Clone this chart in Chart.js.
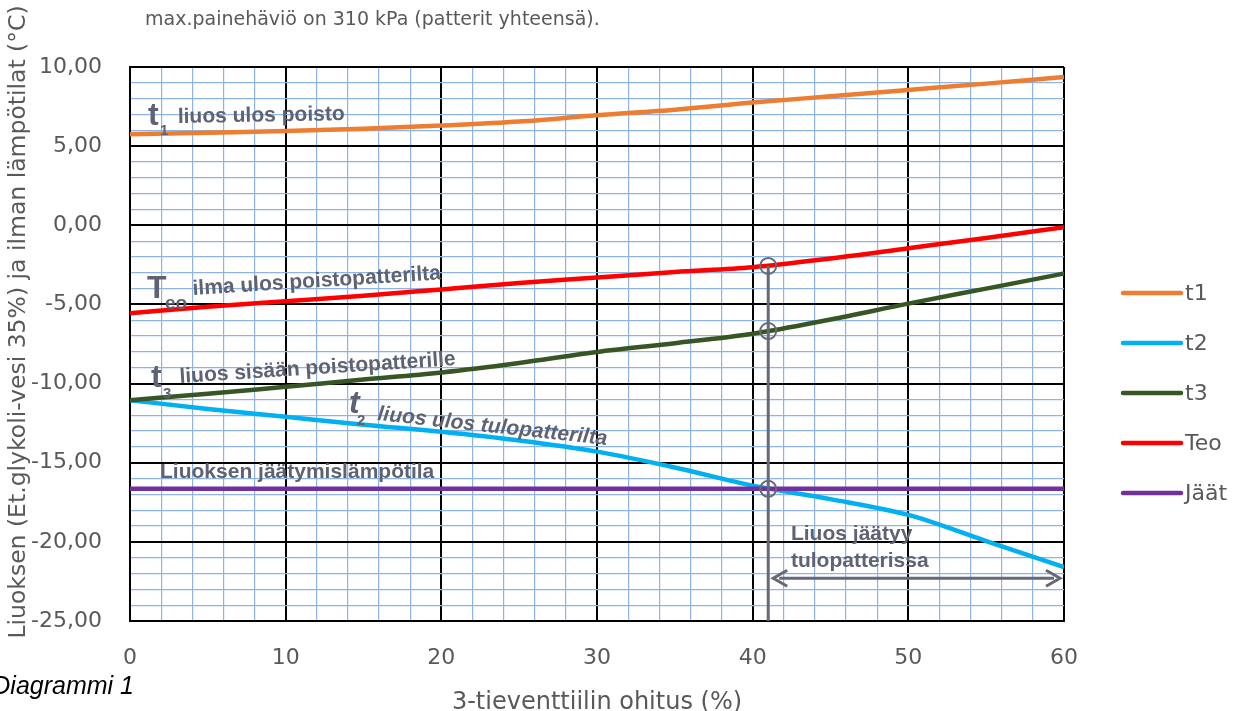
<!DOCTYPE html>
<html>
<head>
<meta charset="utf-8">
<script src="https://cdn.jsdelivr.net/npm/chart.js@4.4.1/dist/chart.umd.min.js"></script>
<style>
    html, body { margin: 0; background: #fff; }
    #wrap { width: 1238px; height: 711px; position: relative; }
</style>
</head>
<body>
<div id="wrap"><canvas id="chart"></canvas></div>
<script>
// values
const ohitus = [0, 5, 10, 15, 20, 25, 30, 35, 40, 45, 50, 55, 60];
const t1 = [5.75, 5.85, 5.95, 6.1, 6.3, 6.55, 6.95, 7.3, 7.75, 8.15, 8.55, 8.95, 9.37];
const t2 = [-11.05, -11.6, -12.1, -12.6, -13.05, -13.6, -14.3, -15.3, -16.45, -17.3, -18.3, -19.95, -21.6];
const t3 = [-11.05, -10.65, -10.2, -9.75, -9.3, -8.7, -8.0, -7.45, -6.85, -5.95, -4.95, -4.0, -3.05];
const teo = [-5.55, -5.15, -4.8, -4.45, -4.05, -3.65, -3.3, -2.95, -2.65, -2.1, -1.45, -0.8, -0.12];
const jaat = [-16.65, -16.65, -16.65, -16.65, -16.65, -16.65, -16.65, -16.65, -16.65, -16.65, -16.65, -16.65, -16.65];

const seriesNames = ["t1", "t2", "t3", "Teo", "Jäät"];
const seriesColors = ["#ed7d31", "#00b0f0", "#375623", "#ff0000", "#7030a0"];

// the marked point at 41 % bypass
const merkintaX = 41;
const merkintaY = [-2.57, -6.68, -16.65];
const nuoliY = -22.3;

const grey = "#5f6272";
const tickFont = { family: "DejaVu Sans", size: 22 };

function points(values) {
    return ohitus.map((x, i) => ({ x: x, y: values[i] }));
}

function seriesDataset(i, values) {
    return {
        label: seriesNames[i],
        data: points(values),
        borderColor: seriesColors[i],
        borderWidth: 4.5,
        pointRadius: 0,
        cubicInterpolationMode: "monotone",
        order: 10 - i,
    };
}

// draws the texts, the arrow and the legend on top of the chart
const extras = {
    id: "extras",
    afterDraw(chart) {
        const ctx = chart.ctx;
        const x = chart.scales.x;
        const y = chart.scales.y;
        const px = (v) => x.getPixelForValue(v);
        const py = (v) => y.getPixelForValue(v);
        ctx.save();

        // double arrow from the marker to the end of the axis
        const ax1 = px(merkintaX) + 3, ax2 = px(60) - 2, ay = py(nuoliY);
        ctx.strokeStyle = "#666a78";
        ctx.lineWidth = 3;
        ctx.beginPath();
        ctx.moveTo(ax1 + 8, ay);
        ctx.lineTo(ax2 - 8, ay);
        ctx.stroke();
        ctx.lineJoin = "miter";
        ctx.beginPath();
        ctx.moveTo(ax1 + 16, ay - 8);
        ctx.lineTo(ax1 + 2, ay);
        ctx.lineTo(ax1 + 16, ay + 8);
        ctx.stroke();
        ctx.beginPath();
        ctx.moveTo(ax2 - 16, ay - 8);
        ctx.lineTo(ax2 - 2, ay);
        ctx.lineTo(ax2 - 16, ay + 8);
        ctx.stroke();

        // labels next to the lines
        ctx.fillStyle = grey;
        ctx.textBaseline = "alphabetic";
        ctx.textAlign = "left";
        const bold = (s, italic) => (italic ? "italic " : "") + "bold " + s + "px 'Liberation Sans', Arial, sans-serif";
        function rotated(text, xv, yv, deg, font) {
            ctx.save();
            ctx.translate(px(xv), py(yv));
            ctx.rotate((deg * Math.PI) / 180);
            ctx.font = font;
            ctx.fillText(text, 0, 0);
            ctx.restore();
        }
        // t1
        rotated("t", 1.16, 6.34, 0, bold(32));
        rotated("1", 1.93, 5.7, 0, bold(15));
        rotated("liuos ulos poisto", 3.08, 6.46, -1, bold(21));
        // Teo
        rotated("T", 1.09, -4.59, 0, bold(32));
        rotated("eo", 2.25, -5.29, 0, bold(19));
        rotated("ilma ulos poistopatterilta", 4.05, -4.4, -3.6, bold(21));
        // t3
        rotated("t", 1.35, -10.22, 0, bold(32));
        rotated("3", 2.12, -10.91, 0, bold(15));
        rotated("liuos sisään poistopatterille", 3.21, -9.96, -3.7, bold(21));
        // t2
        rotated("t", 14.07, -11.86, 0, bold(32, true));
        rotated("2", 14.58, -12.62, 0, bold(15));
        rotated("liuos ulos tulopatterilta", 15.87, -12.3, 6.2, bold(21, true));
        // freezing point
        rotated("Liuoksen jäätymislämpötila", 1.93, -15.96, 0, bold(21));
        rotated("Liuos jäätyy", 42.46, -19.88, 0, bold(21));
        rotated("tulopatterissa", 42.46, -21.59, 0, bold(21));

        // legend
        ctx.font = "22px 'DejaVu Sans'";
        ctx.textBaseline = "middle";
        for (let i = 0; i < seriesNames.length; i++) {
            const ly = 293 + i * 50;
            ctx.strokeStyle = seriesColors[i];
            ctx.lineWidth = 4.5;
            ctx.lineCap = "round";
            ctx.beginPath();
            ctx.moveTo(1123, ly);
            ctx.lineTo(1181, ly);
            ctx.stroke();
            ctx.fillStyle = "#595959";
            ctx.fillText(seriesNames[i], 1185, ly + 1);
        }

        // y axis title
        ctx.save();
        ctx.translate(19, 322);
        ctx.rotate(-Math.PI / 2);
        ctx.textAlign = "center";
        ctx.font = "23.5px 'DejaVu Sans'";
        ctx.fillText("Liuoksen (Et.glykoli-vesi 35%) ja ilman lämpötilat (°C)", 0, 0);
        ctx.restore();

        // texts around the chart
        ctx.fillStyle = "#595959";
        ctx.font = "19px 'DejaVu Sans'";
        ctx.textBaseline = "alphabetic";
        ctx.fillText("max.painehäviö on 310 kPa (patterit yhteensä).", 145, 25);
        ctx.fillStyle = "#000";
        ctx.font = "italic 25px 'Liberation Sans', Arial, sans-serif";
        ctx.textAlign = "right";
        ctx.fillText("Diagrammi 1", 134, 694);
        ctx.restore();
    },
};

const config = {
    type: "line",
    data: {
        datasets: [
            seriesDataset(0, t1),
            seriesDataset(1, t2),
            seriesDataset(2, t3),
            seriesDataset(3, teo),
            seriesDataset(4, jaat),
            {
                label: "pystyviiva",
                data: [{ x: merkintaX, y: merkintaY[0] }, { x: merkintaX, y: -25 }],
                borderColor: "#666a78",
                borderWidth: 3,
                pointRadius: 0,
                order: 1,
            },
            {
                label: "merkit",
                data: merkintaY.map((v) => ({ x: merkintaX, y: v })),
                showLine: false,
                pointRadius: 8,
                pointBorderWidth: 2,
                pointBorderColor: "#666a78",
                pointBackgroundColor: "rgba(0,0,0,0)",
                order: 0,
            },
        ],
    },
    options: {
        responsive: true,
        maintainAspectRatio: false,
        animation: false,
        layout: { padding: { top: 67, right: 174, bottom: 0, left: 0 } },
        plugins: { legend: { display: false }, tooltip: { enabled: false } },
        scales: {
            x: {
                type: "linear",
                min: 0,
                max: 60,
                afterFit: (scale) => { scale.height = 90; },
                ticks: {
                    stepSize: 2,
                    autoSkip: false,
                    maxRotation: 0,
                    padding: 24,
                    color: "#595959",
                    font: tickFont,
                    callback: (v) => (v % 10 === 0 ? String(v) : ""),
                },
                grid: {
                    drawTicks: false,
                    color: (c) => (c.tick && c.tick.value % 10 === 0 ? "#000" : "#8eb4e3"),
                    lineWidth: (c) => (c.tick && c.tick.value % 10 === 0 ? 2 : 1.2),
                },
                border: { color: "#000", width: 2 },
                title: {
                    display: true,
                    text: "3-tieventtiilin ohitus (%)",
                    color: "#595959",
                    font: { family: "DejaVu Sans", size: 24, lineHeight: 1 },
                    padding: { top: 0, bottom: -4 },
                },
            },
            y: {
                min: -25,
                max: 10,
                afterFit: (scale) => { scale.width = 130; },
                ticks: {
                    stepSize: 1,
                    autoSkip: false,
                    padding: 28,
                    color: "#595959",
                    font: tickFont,
                    callback: (v) => (v % 5 === 0 ? v.toFixed(2).replace(".", ",") : ""),
                },
                grid: {
                    drawTicks: false,
                    color: (c) => (c.tick && c.tick.value % 5 === 0 ? "#000" : "#8eb4e3"),
                    lineWidth: (c) => (c.tick && c.tick.value % 5 === 0 ? 2 : 1.2),
                },
                border: { color: "#000", width: 2 },
            },
        },
    },
    plugins: [extras],
};

new Chart(document.getElementById("chart"), config);
</script>
</body>
</html>
